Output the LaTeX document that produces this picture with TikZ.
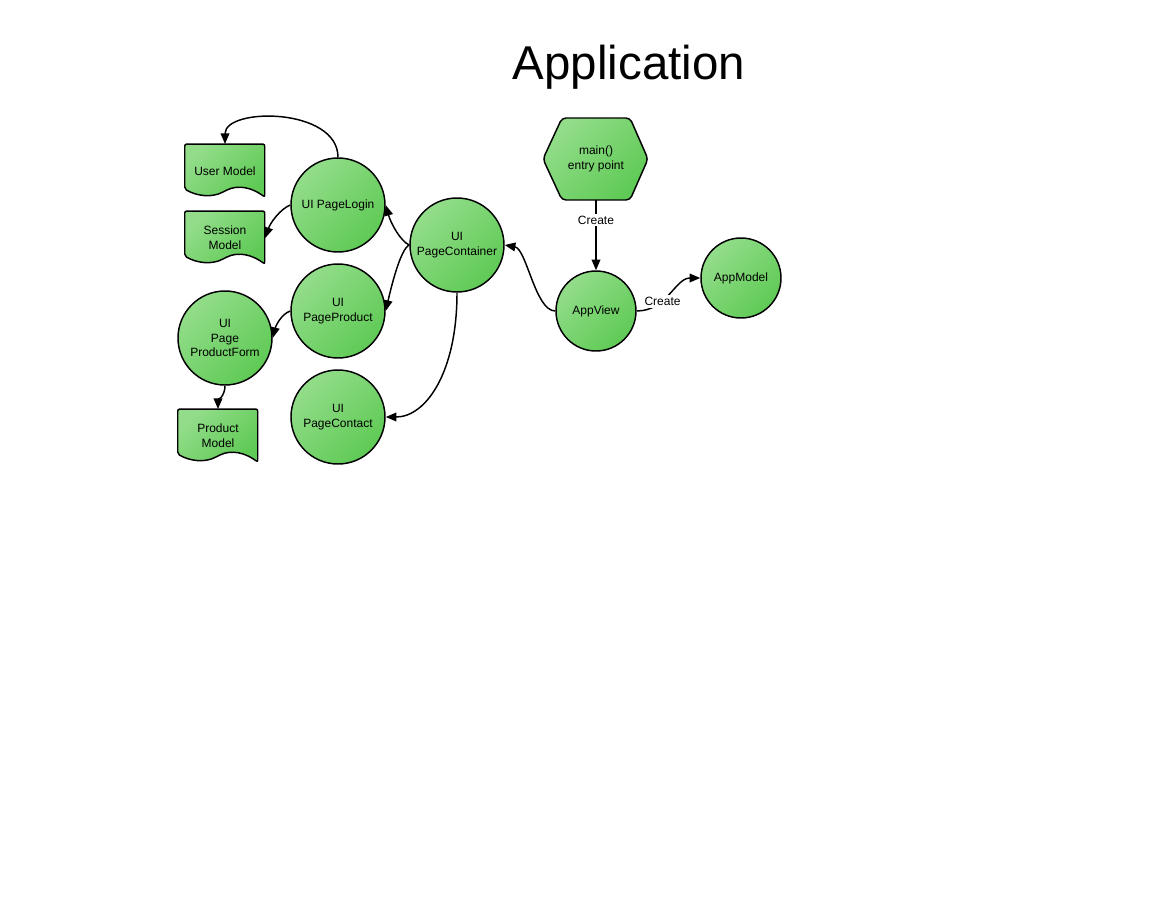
\documentclass[tikz,border=0pt]{standalone}
\usepackage{fontspec}
\setmainfont{Liberation Sans}
\usetikzlibrary{arrows.meta}
\pgfdeclarelayer{bg}
\pgfsetlayers{bg,main}

\definecolor{greenlight}{HTML}{93DD8A}
\definecolor{greendark}{HTML}{5FCA55}

\tikzset{
    greenfill/.style={top color=greenlight, bottom color=greendark, shading angle=45},
    edgeline/.style={line width=1.1pt},
    arrowline/.style={edgeline, -{Triangle[length=8pt,width=6.5pt]}},
    pagecircle/.style={circle, draw, line width=1.1pt, greenfill, minimum size=70.5pt, inner sep=0pt, align=center, font=\fontsize{9}{11}\selectfont},
    smallcircle/.style={pagecircle, minimum size=60pt},
    docbox/.style={rectangle, minimum width=60pt, minimum height=40pt, inner sep=0pt, align=center, font=\fontsize{9}{11}\selectfont},
    docshape/.style={draw, line width=1.1pt, greenfill, rounded corners=1.5pt},
    createlabel/.style={fill=white, inner sep=1.5pt, font=\fontsize{9}{11}\selectfont}
}

\begin{document}
\begin{tikzpicture}[x=0.75pt, y=-0.75pt]
                \useasboundingbox (0,0) rectangle (1165,900);
                \node[font=\fontsize{35.6}{40}\selectfont] (title) at (629,67) {Application};

                % models
                \node[docbox] (usermodel) at (225,171) {User Model};
                \node[docbox] (sessionmodel) at (225,238) {Session\\Model};
                \node[docbox] (productmodel) at (218,436) {Product\\Model};

                % pages
                \node[pagecircle] (pagelogin) at (338,205) {UI PageLogin};
                \node[pagecircle] (pagecontainer) at (457,245) {UI\\PageContainer};
                \node[pagecircle] (pageproduct) at (338,311) {UI\\PageProduct};
                \node[pagecircle] (productform) at (225,338) {UI\\Page\\ProductForm};
                \node[pagecircle] (pagecontact) at (338,417) {UI\\PageContact};

                % application
                \node[docbox, minimum width=78.75pt, minimum height=61.5pt] (mainentry) at (596,159) {main()\\entry point};
                \node[smallcircle] (appview) at (596,311) {AppView};
                \node[smallcircle] (appmodel) at (741,278) {AppModel};

                \begin{pgfonlayer}{bg}
                    \foreach \doc in {usermodel, sessionmodel, productmodel}
                        \draw[docshape, shift={(\doc.north west)}] (0,0) -- (80,0) -- (80,53)
                            .. controls (68,44) and (54,40) .. (40,47)
                            .. controls (27,54) and (12,52) .. (0,45) -- cycle;
                    \draw[docshape, rounded corners=3pt, shift={(mainentry.center)}] (-53,0) -- (-34,-41) -- (34,-41) -- (52,0) -- (34,41) -- (-34,41) -- cycle;
                \end{pgfonlayer}

                % connectors
                \draw[arrowline] (pagelogin.north) .. controls +(0,-50) and +(0,-37) .. (usermodel.north);
                \draw[arrowline] (pagelogin.west) .. controls +(-10,4) and +(5,-15) .. (sessionmodel.east);
                \draw[arrowline] (pagecontainer.west) .. controls +(-9,-4) and +(5,18) .. (pagelogin.east);
                \draw[arrowline] (pagecontainer.west) .. controls +(-9,4) and +(5,-22) .. (pageproduct.east);
                \draw[arrowline] (pagecontainer.south) .. controls +(0,80) and +(40,0) .. (pagecontact.east);
                \draw[arrowline] (pageproduct.west) .. controls +(-9,3) and +(3,-12) .. (productform.east);
                \draw[arrowline] (productform.south) .. controls +(0,10) and +(0,-8) .. (productmodel.north);
                \draw[arrowline] (appview.west) .. controls +(-20,0) and +(22,4) .. (pagecontainer.east);
                \draw[arrowline] (mainentry.south) -- node[createlabel, pos=0.28] {Create} (appview.north);
                \draw[arrowline] (appview.east) .. controls +(30,0) and +(-25,0) .. node[createlabel, pos=0.36] {Create} (appmodel.west);
            \end{tikzpicture}
\end{document}
